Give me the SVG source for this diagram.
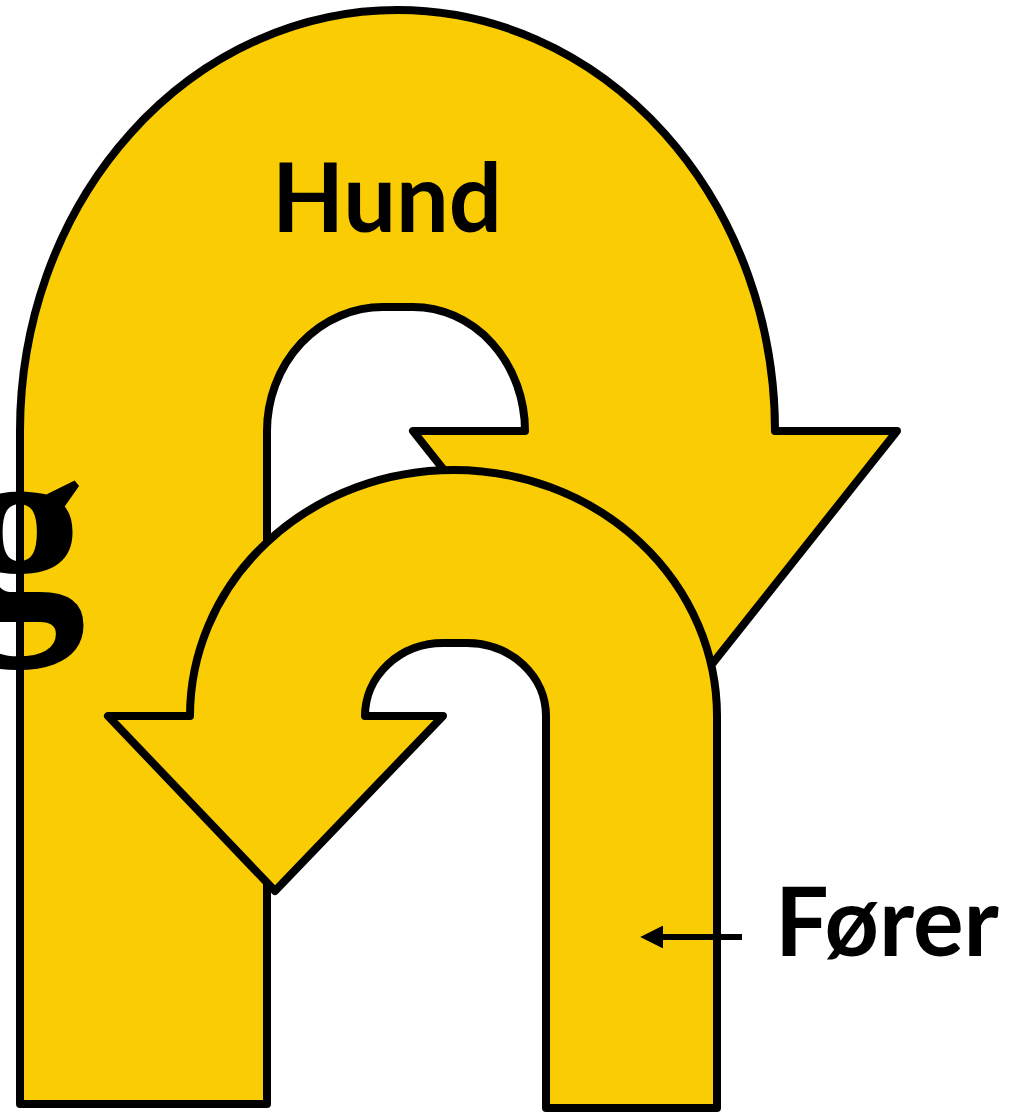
<svg xmlns="http://www.w3.org/2000/svg" width="1016" height="1114" viewBox="0 0 1016 1114">
<style>
.shape{fill:#F9CC04;stroke:#000;stroke-width:8;stroke-linejoin:round}
.lbl{font-family:Lato,"Open Sans",sans-serif;font-weight:bold;font-size:96px;fill:#000}
.big{font-family:"Liberation Serif","Times New Roman",serif;font-weight:bold;font-size:258px;fill:#000}
</style>
<defs>
<marker id="ah" viewBox="0 0 10 10" refX="0" refY="5" markerWidth="3.8" markerHeight="3.8" orient="auto" markerUnits="strokeWidth">
<path d="M0,0 L10,5 L0,10 Z" fill="#000"/>
</marker>
</defs>
<rect width="1016" height="1114" fill="#fff"/>
<g id="hund">
<path class="shape" d="M20 1104 L20 431 A377.5 421 0 0 1 775 431 L897 431 L655 736 L413 431 L525 431 A112 124 0 0 0 413 307 L383 307 A116 124 0 0 0 267 431 L267 1104 Z"/>
<text class="lbl" x="387" y="232" text-anchor="middle" textLength="230" lengthAdjust="spacingAndGlyphs">Hund</text>
</g>
<g id="forer-shape">
<path class="shape" d="M546 1108 L546 716 A79 73 0 0 0 467 643 L443 643 A78 73 0 0 0 365 716 L443 716 L275 891 L108 716 L190 716 A263.5 246 0 0 1 717 716 L717 1108 Z"/>
</g>
<g id="g-letter">
<text class="big" x="86" y="613" text-anchor="end">g</text>
</g>
<g id="connectors">
<line x1="742" y1="937" x2="663" y2="937" stroke="#000" stroke-width="6" marker-end="url(#ah)"/>
</g>
<g id="forer-label">
<text class="lbl" x="775" y="956" textLength="224" lengthAdjust="spacingAndGlyphs">Fører</text>
</g>
</svg>
